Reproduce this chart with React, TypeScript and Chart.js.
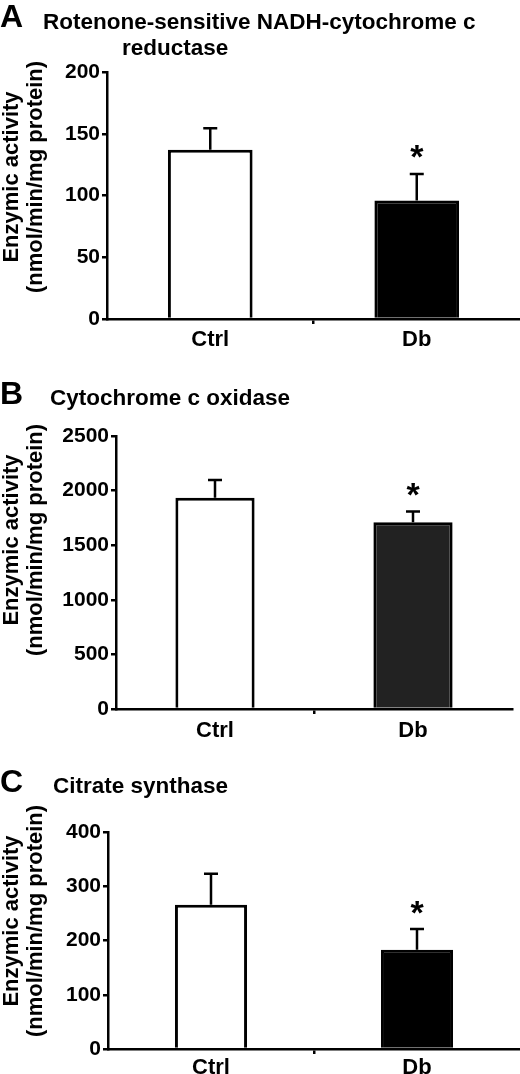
import { useEffect, useRef } from "react";
import { Chart, registerables } from "chart.js";

Chart.register(...registerables);

// Groups and significance marks
const groups = ["Ctrl", "Db"];
const starred = [false, true];

// A: rotenone-sensitive NADH-cytochrome c reductase
const reductaseMean = [137, 96];
const reductaseSem = [17.5, 21.5];

// B: cytochrome c oxidase
const oxidaseMean = [1935, 1710];
const oxidaseSem = [162, 98];

// C: citrate synthase
const synthaseMean = [266, 183];
const synthaseSem = [57, 38];

const yTitle = ["Enzymic activity", "(nmol/min/mg protein)"];

const FONT = "'Liberation Sans', Arial, sans-serif";

interface TitleLine {
  text: string;
  x: number;
  y: number;
}

interface PanelProps {
  letter: string;
  letterBaseline: number;
  titleLines: TitleLine[];
  means: number[];
  sem: number[];
  yMax: number;
  yStep: number;
  dbColor: string;
  top: number;
  height: number;
  axisLeft: number;
  padRight: number;
  padTop: number;
  xAxisHeight: number;
  xLabelPad: number;
  barPct: number;
  yTitleCenter: number;
}

const decorations = (p: PanelProps) => ({
  id: "decorations",
  afterDatasetsDraw(chart: any) {
    const ctx = chart.ctx as CanvasRenderingContext2D;
    const yScale = chart.scales.y;
    const meta = chart.getDatasetMeta(0);
    ctx.save();
    ctx.strokeStyle = "#000";
    ctx.fillStyle = "#000";
    ctx.lineWidth = 2.5;
    p.means.forEach((m, i) => {
      const x = meta.data[i].x;
      const y0 = yScale.getPixelForValue(m);
      const y1 = yScale.getPixelForValue(m + p.sem[i]);
      ctx.beginPath();
      ctx.moveTo(x, y0);
      ctx.lineTo(x, y1);
      ctx.moveTo(x - 7, y1);
      ctx.lineTo(x + 7, y1);
      ctx.stroke();
      if (starred[i]) {
        ctx.font = `bold 34px ${FONT}`;
        ctx.textAlign = "center";
        ctx.textBaseline = "alphabetic";
        const mt = ctx.measureText("*");
        const cy = y1 - 22;
        ctx.fillText(
          "*",
          x,
          cy + (mt.actualBoundingBoxAscent - mt.actualBoundingBoxDescent) / 2
        );
      }
    });
    ctx.restore();
  },
  afterDraw(chart: any) {
    const ctx = chart.ctx as CanvasRenderingContext2D;
    ctx.save();
    ctx.fillStyle = "#000";
    ctx.textBaseline = "alphabetic";
    ctx.textAlign = "left";
    // panel letter
    ctx.font = `bold 32px ${FONT}`;
    ctx.fillText(p.letter, 0, p.letterBaseline);
    // panel title
    ctx.font = `bold 22.5px ${FONT}`;
    p.titleLines.forEach((t) => ctx.fillText(t.text, t.x, t.y));
    // y axis title, two rotated lines
    ctx.font = `bold 22px ${FONT}`;
    ctx.textAlign = "center";
    ctx.textBaseline = "middle";
    const centers = [12, 35.5];
    yTitle.forEach((line, i) => {
      ctx.save();
      ctx.translate(centers[i], p.yTitleCenter);
      ctx.rotate(-Math.PI / 2);
      ctx.fillText(line, 0, 0);
      ctx.restore();
    });
    ctx.restore();
  },
});

const Panel = (p: PanelProps) => {
  const canvasRef = useRef<HTMLCanvasElement>(null);

  useEffect(() => {
    if (!canvasRef.current) return;
    const chart = new Chart(canvasRef.current, {
      type: "bar",
      data: {
        labels: groups,
        datasets: [
          {
            data: p.means,
            backgroundColor: ["#ffffff", p.dbColor],
            borderColor: "#000",
            borderWidth: 3,
            barPercentage: p.barPct,
            categoryPercentage: 1,
          },
        ],
      },
      options: {
        responsive: false,
        animation: false,
        layout: {
          padding: { top: p.padTop, right: p.padRight, left: 0, bottom: 0 },
        },
        plugins: {
          legend: { display: false },
          tooltip: { enabled: false },
        },
        scales: {
          x: {
            grid: {
              drawOnChartArea: false,
              tickLength: 5,
              lineWidth: 2.5,
              color: (c: any) => (c.index === 1 ? "#000" : "rgba(0,0,0,0)"),
            },
            border: { display: true, color: "#000", width: 2.5 },
            ticks: {
              color: "#000",
              padding: p.xLabelPad,
              font: { family: FONT, size: 22, weight: "bold" },
            },
            afterFit: (s: any) => {
              s.height = p.xAxisHeight;
            },
          },
          y: {
            min: 0,
            max: p.yMax,
            grid: {
              drawOnChartArea: false,
              tickLength: 5,
              lineWidth: 2.5,
              color: "#000",
            },
            border: { display: true, color: "#000", width: 2.5 },
            ticks: {
              stepSize: p.yStep,
              color: "#000",
              padding: 2,
              font: { family: FONT, size: 21, weight: "bold" },
              callback: (v: any) => String(v),
            },
            afterFit: (s: any) => {
              s.width = p.axisLeft;
            },
          },
        },
      },
      plugins: [decorations(p)],
    });
    return () => chart.destroy();
  }, [p]);

  return (
    <canvas
      ref={canvasRef}
      width={520}
      height={p.height}
      style={{ position: "absolute", left: 0, top: p.top, display: "block" }}
    />
  );
};

const panelA: PanelProps = {
  letter: "A",
  letterBaseline: 27,
  titleLines: [
    { text: "Rotenone-sensitive NADH-cytochrome c", x: 43, y: 28.5 },
    { text: "reductase", x: 122, y: 55 },
  ],
  means: reductaseMean,
  sem: reductaseSem,
  yMax: 200,
  yStep: 50,
  dbColor: "#000000",
  top: 0,
  height: 360,
  axisLeft: 107,
  padRight: 0,
  padTop: 72,
  xAxisHeight: 41,
  xLabelPad: 3,
  barPct: 0.41,
  yTitleCenter: 177,
};

const panelB: PanelProps = {
  letter: "B",
  letterBaseline: 44,
  titleLines: [{ text: "Cytochrome c oxidase", x: 50, y: 44.5 }],
  means: oxidaseMean,
  sem: oxidaseSem,
  yMax: 2500,
  yStep: 500,
  dbColor: "#222222",
  top: 360,
  height: 385,
  axisLeft: 116,
  padRight: 8,
  padTop: 76,
  xAxisHeight: 36,
  xLabelPad: 4,
  barPct: 0.4,
  yTitleCenter: 180,
};

const panelC: PanelProps = {
  letter: "C",
  letterBaseline: 47,
  titleLines: [{ text: "Citrate synthase", x: 53, y: 47.5 }],
  means: synthaseMean,
  sem: synthaseSem,
  yMax: 400,
  yStep: 100,
  dbColor: "#000000",
  top: 745,
  height: 329,
  axisLeft: 108,
  padRight: 0,
  padTop: 87,
  xAxisHeight: 25,
  xLabelPad: 1,
  barPct: 0.35,
  yTitleCenter: 176,
};

export default function App() {
  return (
    <div
      style={{
        position: "absolute",
        left: 0,
        top: 0,
        width: 520,
        height: 1074,
        background: "#fff",
        overflow: "hidden",
      }}
    >
      <Panel {...panelA} />
      <Panel {...panelB} />
      <Panel {...panelC} />
    </div>
  );
}
